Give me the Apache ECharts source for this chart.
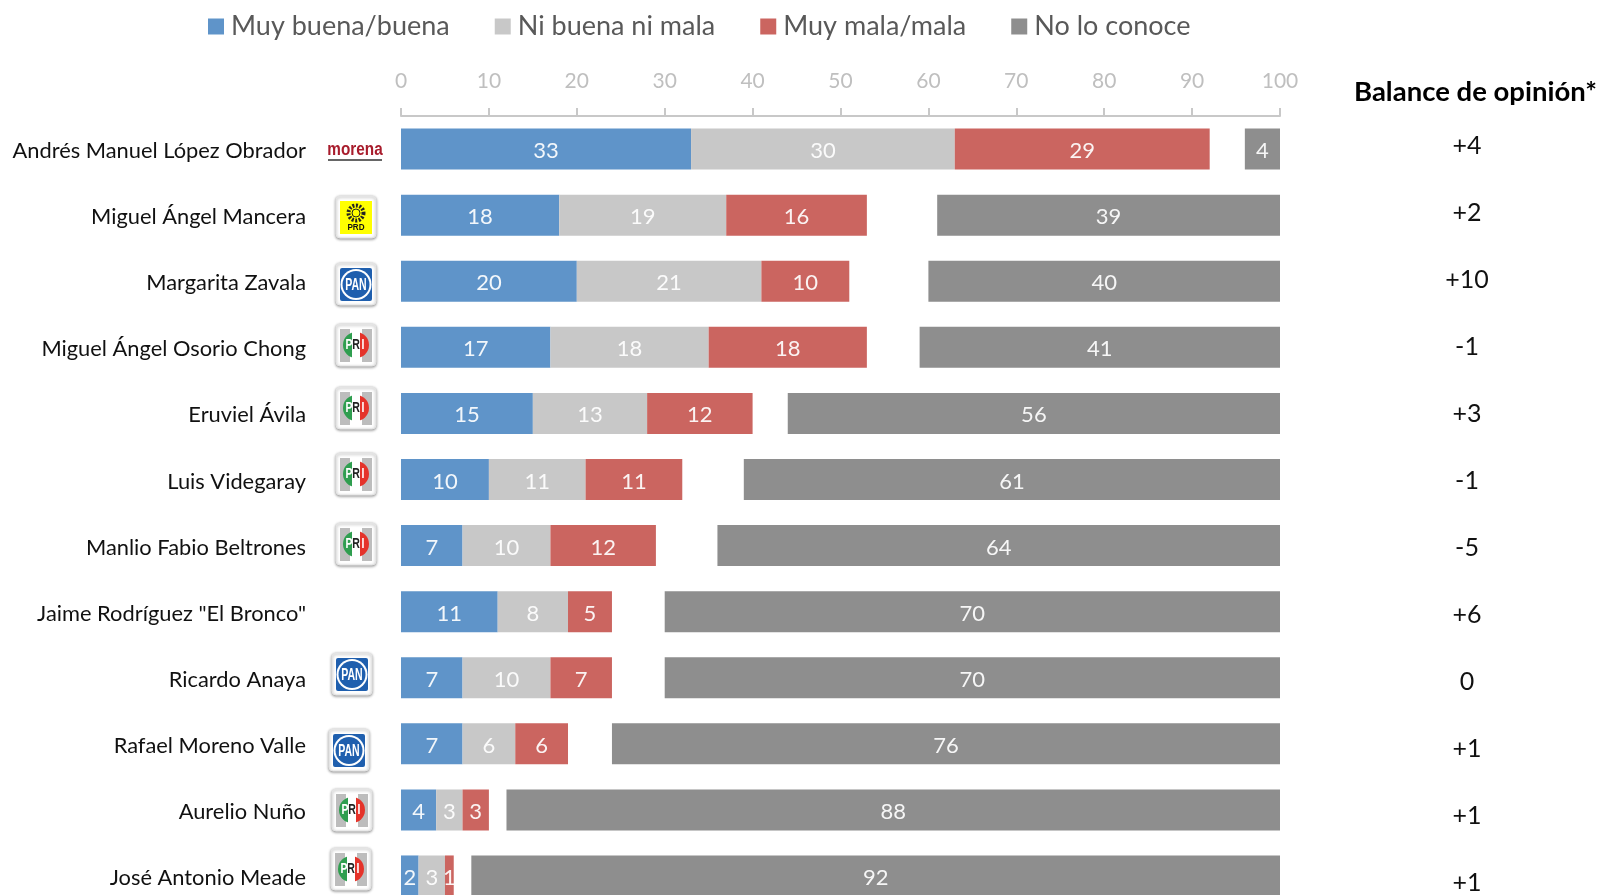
<!DOCTYPE html>
<html>
<head>
<meta charset="utf-8">
<style>html,body{margin:0;padding:0;background:#fff}#chart{width:1600px;height:895px}</style>
<script src="https://cdn.jsdelivr.net/npm/echarts@6/dist/echarts.min.js"></script>
</head>
<body>
<div id="chart"></div>
<script>
var candidates = ['Andrés Manuel López Obrador','Miguel Ángel Mancera','Margarita Zavala','Miguel Ángel Osorio Chong','Eruviel Ávila','Luis Videgaray','Manlio Fabio Beltrones','Jaime Rodríguez "El Bronco"','Ricardo Anaya','Rafael Moreno Valle','Aurelio Nuño','José Antonio Meade'];
var buena = [33,18,20,17,15,10,7,11,7,7,4,2];
var neutral = [30,19,21,18,13,11,10,8,10,6,3,3];
var mala = [29,16,10,18,12,11,12,5,7,6,3,1];
var noConoce = [4,39,40,41,56,61,64,70,70,76,88,92];
var balance = ['+4','+2','+10','-1','+3','-1','-5','+6','0','+1','+1','+1'];
var xTicks = [0,10,20,30,40,50,60,70,80,90,100];
var parties = ['morena','PRD','PAN','PRI','PRI','PRI','PRI',null,'PAN','PAN','PRI','PRI'];

// logo centres, they are not evenly placed in the original
var logoX = [355,356,356,356,356,356,356,0,352,349,352,351];
var logoY = [152,217,284,345,408,474,544,0,674,750,810,869];

var font = 'Lato';

function card(){
  return {type:'rect',shape:{x:-20,y:-21,width:40,height:42,r:4},
    style:{fill:'#fff',stroke:'#e4e4e4',lineWidth:1,shadowBlur:3,shadowColor:'rgba(0,0,0,0.4)',shadowOffsetX:0,shadowOffsetY:1}};
}
// squeezed bold text, the logos use condensed letters
function logoText(t,x,y,size,color,squeeze){
  return {type:'text',x:x,y:y,scaleX:squeeze,
    style:{text:t,align:'center',verticalAlign:'middle',font:'bold '+size+'px "Liberation Sans"',fill:color}};
}
function buildLogo(party,x,y){
  var c = [];
  if(party=='morena'){
    c.push(logoText('morena',0,-2,18,'#a81c2c',0.85));
    c.push({type:'rect',shape:{x:-27,y:7,width:54,height:2},style:{fill:'#666'}});
  }
  if(party=='PRD'){
    c.push(card());
    c.push({type:'rect',shape:{x:-16,y:-16,width:32,height:33},style:{fill:'#ffff00'}});
    c.push({type:'circle',shape:{cx:0,cy:-4,r:7.5},style:{fill:'none',stroke:'#222',lineWidth:4,lineDash:[2,1.5]}});
    c.push({type:'circle',shape:{cx:0,cy:-4,r:4},style:{fill:'#ffff00',stroke:'#222',lineWidth:1}});
    c.push(logoText('PRD',0,11,9,'#111',0.9));
  }
  if(party=='PAN'){
    c.push(card());
    c.push({type:'rect',shape:{x:-16,y:-16,width:32,height:33,r:2},style:{fill:'#1f5fae'}});
    c.push({type:'circle',shape:{cx:0,cy:0.5,r:15.5},style:{fill:'#fff'}});
    c.push({type:'circle',shape:{cx:0,cy:0.5,r:13.5},style:{fill:'#1f5fae'}});
    c.push(logoText('PAN',0,1,17,'#fff',0.62));
  }
  if(party=='PRI'){
    c.push(card());
    c.push({type:'rect',shape:{x:-16,y:-16,width:10,height:33},style:{fill:'#bdbdbd'}});
    c.push({type:'rect',shape:{x:6,y:-16,width:10,height:33},style:{fill:'#bdbdbd'}});
    c.push({type:'sector',shape:{cx:0,cy:0,r:13,r0:0,startAngle:Math.PI/2,endAngle:Math.PI*1.5},style:{fill:'#2f9e4f'}});
    c.push({type:'sector',shape:{cx:0,cy:0,r:13,r0:0,startAngle:-Math.PI/2,endAngle:Math.PI/2},style:{fill:'#e5332a'}});
    c.push({type:'rect',shape:{x:-4,y:-13,width:8,height:26},style:{fill:'#fff'}});
    c.push(logoText('P',-7,0,15,'#fff',0.7));
    c.push(logoText('R',0,0,15,'#222',0.7));
    c.push(logoText('I',7,0,15,'#fff',0.7));
  }
  return {type:'group',x:x,y:y,children:c};
}

var logos = [];
for(var i=0;i<parties.length;i++){
  if(parties[i]) logos.push(buildLogo(parties[i],logoX[i],logoY[i]));
}

function barSeries(name,data,color,xIndex,stack){
  return {
    name:name,type:'bar',xAxisIndex:xIndex,yAxisIndex:0,stack:stack,
    barWidth:41,barGap:'-100%',data:data,
    itemStyle:{color:color},
    label:{show:true,position:'inside',color:'#fff',fontFamily:font,fontSize:22,opacity:0.92,offset:[0,2]}
  };
}

var chart = echarts.init(document.getElementById('chart'));
var option = {
  animation:false,
  backgroundColor:'#fff',
  title:{text:'Balance de opinión*',left:1349,top:73,textStyle:{fontFamily:font,fontSize:27.5,fontWeight:'bold',color:'#000'}},
  legend:{
    left:203,top:8,itemWidth:16,itemHeight:16,itemGap:45,icon:'rect',
    textStyle:{fontFamily:font,fontSize:27,color:'#595959',padding:[0,0,0,2]},
    data:['Muy buena/buena','Ni buena ni mala','Muy mala/mala','No lo conoce']
  },
  grid:[
    {left:401,top:116,width:879,height:793,outerBoundsMode:'none'},
    // the balance column runs on a slightly wider row pitch than the bars
    {left:401,top:112.5,width:879,height:803.5,outerBoundsMode:'none'}
  ],
  xAxis:[
    {type:'value',position:'top',min:0,max:100,interval:10,
      axisLine:{show:true,lineStyle:{color:'#c8c8c8',width:2}},
      axisTick:{show:true,length:8,lineStyle:{color:'#c8c8c8',width:2}},
      axisLabel:{color:'#bfbfbf',fontFamily:font,fontSize:21,margin:24,
        customValues:xTicks},
      splitLine:{show:false}},
    {type:'value',inverse:true,position:'top',min:0,max:100,show:false,splitLine:{show:false}},
    {type:'value',gridIndex:1,min:0,max:100,show:false,splitLine:{show:false}}
  ],
  yAxis:[
    {type:'category',inverse:true,data:candidates,
      axisLine:{show:false},axisTick:{show:false},
      // names sit a little below the bar centre
      axisLabel:{color:'#111',fontFamily:font,fontSize:21.85,margin:95,verticalAlign:'top',lineHeight:4}},
    {type:'category',gridIndex:1,inverse:true,position:'right',data:balance,
      axisLine:{show:false},axisTick:{show:false},
      axisLabel:{color:'#111',fontFamily:font,fontSize:25,margin:187,align:'center'}}
  ],
  series:[
    barSeries('Muy buena/buena',buena,'#5f94c9',0,'op'),
    barSeries('Ni buena ni mala',neutral,'#c8c8c8',0,'op'),
    barSeries('Muy mala/mala',mala,'#cb6560',0,'op'),
    barSeries('No lo conoce',noConoce,'#8e8e8e',1,'nc')
  ],
  graphic:logos
};
chart.setOption(option);
</script>
</body>
</html>
